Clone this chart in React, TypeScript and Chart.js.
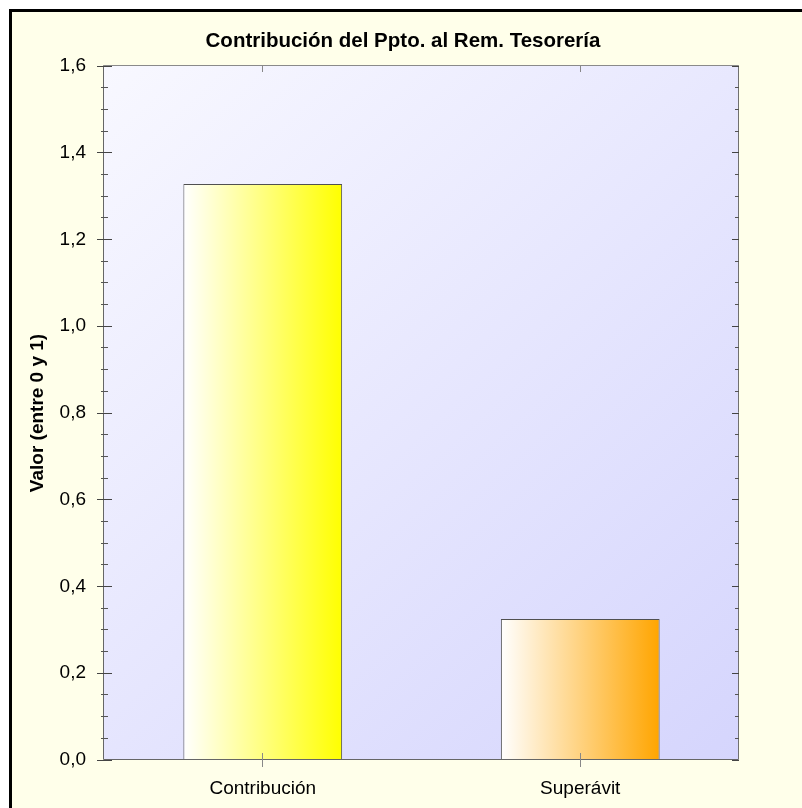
import React, { useEffect, useRef } from 'react';
import { Chart, registerables } from 'chart.js';

Chart.register(...registerables);

const categories = ['Contribución', 'Superávit'];
const values = [1.328, 0.325];
const barEndColors = ['#FFFF00', '#FFA500'];
const chartTitle = 'Contribución del Ppto. al Rem. Tesorería';
const yAxisTitle = 'Valor (entre 0 y 1)';
const yMin = 0;
const yMax = 1.6;
const yStep = 0.2;
const yMinorStep = 0.05;

const FONT = "'Liberation Sans', Arial, sans-serif";

const decorPlugin = {
  id: 'decor',
  beforeDraw(chart: any) {
    const ctx = chart.ctx as CanvasRenderingContext2D;
    const W = chart.width;
    const H = chart.height;
    const a = chart.chartArea;
    ctx.save();
    ctx.fillStyle = '#FFFFFF';
    ctx.fillRect(0, 0, W, H);
    ctx.fillStyle = '#FFFFEA';
    ctx.fillRect(12, 12, W - 12, H - 12);
    ctx.fillStyle = '#000000';
    ctx.fillRect(9, 9, W - 9, 3);
    ctx.fillRect(9, 9, 3, H - 9);
    const g = ctx.createLinearGradient(a.left, a.top, a.right, a.bottom);
    g.addColorStop(0, '#F8F8FF');
    g.addColorStop(1, '#D5D5FD');
    ctx.fillStyle = g;
    ctx.fillRect(a.left, a.top, a.right - a.left, a.bottom - a.top);

    ctx.fillStyle = '#000000';
    ctx.font = `bold 20.5px ${FONT}`;
    ctx.textAlign = 'center';
    ctx.textBaseline = 'alphabetic';
    ctx.fillText(chartTitle, 403, 47);

    ctx.translate(42.5, (a.top + a.bottom) / 2);
    ctx.rotate(-Math.PI / 2);
    ctx.font = `bold 19px ${FONT}`;
    ctx.fillText(yAxisTitle, 0, 0);
    ctx.restore();
  },
  afterDatasetsDraw(chart: any) {
    const ctx = chart.ctx as CanvasRenderingContext2D;
    const a = chart.chartArea;
    const ys = chart.scales.y;
    const xs = chart.scales.x;
    const L = a.left - 0.5;
    const R = a.right - 0.5;
    const T = a.top - 0.5;
    const B = a.bottom - 0.5;
    ctx.save();
    ctx.lineWidth = 1;
    // frame
    ctx.strokeStyle = '#8A8A8A';
    ctx.beginPath();
    ctx.moveTo(L, T);
    ctx.lineTo(R, T);
    ctx.stroke();
    ctx.strokeStyle = '#707070';
    ctx.beginPath();
    ctx.moveTo(R, T);
    ctx.lineTo(R, B);
    ctx.stroke();
    ctx.strokeStyle = '#666666';
    ctx.beginPath();
    ctx.moveTo(L, T);
    ctx.lineTo(L, B);
    ctx.lineTo(R, B);
    ctx.stroke();

    // y ticks
    const n = Math.round((yMax - yMin) / yMinorStep);
    for (let i = 0; i <= n; i++) {
      const v = yMin + i * yMinorStep;
      const y = Math.floor(ys.getPixelForValue(v)) + 0.5;
      const major = i % Math.round(yStep / yMinorStep) === 0;
      ctx.strokeStyle = major ? '#444444' : '#555555';
      ctx.beginPath();
      if (major) {
        ctx.moveTo(a.left - 7, y);
        ctx.lineTo(a.left + 8, y);
        ctx.moveTo(a.right - 7, y);
        ctx.lineTo(a.right, y);
      } else {
        ctx.moveTo(a.left - 3, y);
        ctx.lineTo(a.left + 4, y);
        ctx.moveTo(a.right - 4, y);
        ctx.lineTo(a.right, y);
      }
      ctx.stroke();
    }
    // x category ticks
    ctx.strokeStyle = '#888888';
    for (let i = 0; i < categories.length; i++) {
      const x = Math.floor(xs.getPixelForValue(i)) + 0.5;
      ctx.beginPath();
      ctx.moveTo(x, a.top);
      ctx.lineTo(x, a.top + 6);
      ctx.moveTo(x, a.bottom - 7);
      ctx.lineTo(x, a.bottom + 7);
      ctx.stroke();
    }
    ctx.restore();
  },
};

export default function App() {
  const ref = useRef<HTMLCanvasElement | null>(null);

  useEffect(() => {
    const canvas = ref.current;
    if (!canvas) return;
    const chart = new Chart(canvas, {
      type: 'bar',
      data: {
        labels: categories,
        datasets: [
          {
            data: values,
            backgroundColor: (c: any) => {
              const ch = c.chart;
              const xs = ch.scales && ch.scales.x;
              const idx = c.dataIndex ?? 0;
              if (!xs || !ch.chartArea) return barEndColors[idx];
              const center = xs.getPixelForValue(idx);
              const half = (xs.width / categories.length) * 0.5 / 2;
              const g = ch.ctx.createLinearGradient(center - half, 0, center + half, 0);
              g.addColorStop(0, '#FFFFFF');
              g.addColorStop(1, barEndColors[idx]);
              return g;
            },
            borderColor: '#505050',
            borderWidth: 1,
            barPercentage: 0.5,
            categoryPercentage: 1.0,
          },
        ],
      },
      options: {
        responsive: false,
        animation: false,
        devicePixelRatio: 1,
        layout: { padding: { left: 0, right: 63, top: 66, bottom: 0 } },
        plugins: {
          legend: { display: false },
          tooltip: { enabled: false },
          title: { display: false },
        },
        scales: {
          x: {
            type: 'category',
            offset: true,
            grid: { display: false, drawTicks: false },
            border: { display: false },
            ticks: {
              color: '#000000',
              font: { family: FONT, size: 19 },
              padding: 17,
            },
            afterFit: (s: any) => {
              s.height = 48;
            },
          },
          y: {
            min: yMin,
            max: yMax,
            grid: { display: false, drawTicks: false },
            border: { display: false },
            ticks: {
              stepSize: yStep,
              color: '#000000',
              font: { family: FONT, size: 19 },
              padding: 18,
              callback: (v: any) => Number(v).toFixed(1).replace('.', ','),
            },
            afterFit: (s: any) => {
              s.width = 104;
            },
          },
        },
      },
      plugins: [decorPlugin],
    });
    return () => chart.destroy();
  }, []);

  return (
    <div style={{ position: 'absolute', left: 0, top: 0, width: 802, height: 808 }}>
      <canvas ref={ref} width={802} height={808} style={{ display: 'block', width: 802, height: 808 }} />
    </div>
  );
}
